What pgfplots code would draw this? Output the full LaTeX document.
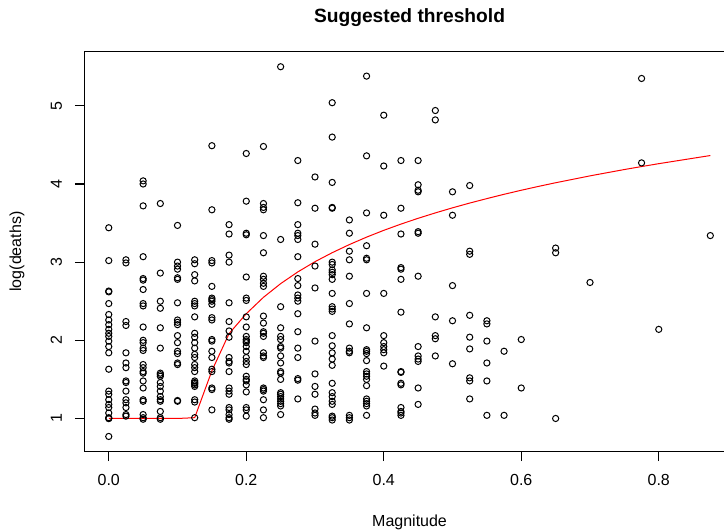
\documentclass[border=0pt]{standalone}
\usepackage{pgfplots}
\pgfplotsset{compat=1.18}
\usepackage{fontspec}
\setmainfont{Liberation Sans}
\begin{document}
\begin{tikzpicture}
\path[use as bounding box] (-42.35pt,-39.85pt) rectangle (319.65pt,225.65pt);
\clip (-42.35pt,-39.85pt) rectangle (319.65pt,225.65pt);
\begin{axis}[
  at={(0pt,0pt)}, anchor=south west,
  scale only axis, width=324.85pt, height=199.7pt,
  xmin=-0.035, xmax=0.91, ymin=0.58, ymax=5.69,
  axis line style={line width=0.6pt},
  tick align=outside, tick pos=left, major tick length=4.85pt,
  tick style={line width=0.6pt, black},
  xtick={0,0.2,0.4,0.6,0.8}, ytick={1,2,3,4,5},
  /pgf/number format/assume math mode=true,
  xticklabel style={/pgf/number format/fixed, /pgf/number format/fixed zerofill, /pgf/number format/precision=1, font=\fontsize{8}{9.6}\selectfont, anchor=north, yshift=-3pt},
  yticklabel style={font=\fontsize{8}{9.6}\selectfont, xshift=-3pt, rotate=90, anchor=south},
  title={\textbf{Suggested threshold}},
  title style={at={(axis description cs:0.5,1.0566)}, anchor=center, font=\fontsize{9.6}{11.5}\selectfont},
  xlabel={Magnitude},
  xlabel style={at={(axis description cs:0.5,-0.177)}, anchor=center, font=\fontsize{8}{9.6}\selectfont},
  ylabel={log(deaths)},
  ylabel style={at={(axis description cs:-0.1042,0.5)}, anchor=center, font=\fontsize{8}{9.6}\selectfont},
]
\addplot[only marks, mark=o, mark size=1.55pt, mark options={line width=0.5pt, black}] coordinates {
(0,3.44)(0,3.02)(0,2.63)(0,2.62)(0,2.47)(0,2.33)(0,2.26)(0,2.20)(0,2.14)(0,2.09)(0,2.05)(0,1.99)(0,1.92)(0,1.84)(0,1.63)(0,1.35)(0,1.31)(0,1.24)(0,1.18)(0,1.14)(0,1.07)(0,1.01)(0,1.0)(0,1.0)(0,0.77)
(0.025,3.03)(0.025,2.99)(0.025,2.24)(0.025,2.19)(0.025,1.84)(0.025,1.71)(0.025,1.65)(0.025,1.48)(0.025,1.46)(0.025,1.35)(0.025,1.24)(0.025,1.20)(0.025,1.14)(0.025,1.05)(0.025,1.03)
(0.05,4.04)(0.05,4.00)(0.05,3.72)(0.05,3.07)(0.05,2.79)(0.05,2.77)(0.05,2.65)(0.05,2.47)(0.05,2.44)(0.05,2.17)(0.05,2.00)(0.05,1.97)(0.05,1.90)(0.05,1.87)(0.05,1.69)(0.05,1.65)(0.05,1.60)(0.05,1.58)(0.05,1.48)(0.05,1.39)(0.05,1.24)(0.05,1.22)(0.05,1.05)(0.05,1.01)(0.05,0.99)
(0.075,3.75)(0.075,2.86)(0.075,2.50)(0.075,2.41)(0.075,2.16)(0.075,1.90)(0.075,1.58)(0.075,1.56)(0.075,1.54)(0.075,1.46)(0.075,1.41)(0.075,1.35)(0.075,1.28)(0.075,1.24)(0.075,1.22)(0.075,1.09)(0.075,1.01)(0.075,0.99)
(0.1,3.47)(0.1,3.00)(0.1,2.95)(0.1,2.91)(0.1,2.80)(0.1,2.78)(0.1,2.48)(0.1,2.26)(0.1,2.23)(0.1,2.20)(0.1,2.06)(0.1,1.97)(0.1,1.86)(0.1,1.83)(0.1,1.71)(0.1,1.69)(0.1,1.23)(0.1,1.22)
(0.125,3.03)(0.125,2.98)(0.125,2.84)(0.125,2.76)(0.125,2.50)(0.125,2.47)(0.125,2.44)(0.125,2.30)(0.125,2.09)(0.125,2.04)(0.125,1.97)(0.125,1.90)(0.125,1.82)(0.125,1.78)(0.125,1.69)(0.125,1.65)(0.125,1.60)(0.125,1.48)(0.125,1.46)(0.125,1.45)(0.125,1.43)(0.125,1.41)(0.125,1.24)(0.125,1.21)(0.125,1.01)
(0.15,4.49)(0.15,3.67)(0.15,3.02)(0.15,2.99)(0.15,2.69)(0.15,2.54)(0.15,2.52)(0.15,2.50)(0.15,2.46)(0.15,2.29)(0.15,2.26)(0.15,2.01)(0.15,1.99)(0.15,1.86)(0.15,1.78)(0.15,1.63)(0.15,1.60)(0.15,1.39)(0.15,1.37)(0.15,1.11)
(0.175,3.48)(0.175,3.36)(0.175,3.09)(0.175,3.00)(0.175,2.48)(0.175,2.24)(0.175,2.12)(0.175,2.04)(0.175,1.78)(0.175,1.73)(0.175,1.71)(0.175,1.60)(0.175,1.39)(0.175,1.35)(0.175,1.31)(0.175,1.14)(0.175,1.11)(0.175,1.05)(0.175,1.01)(0.175,0.99)
(0.2,4.39)(0.2,3.78)(0.2,3.37)(0.2,3.35)(0.2,2.81)(0.2,2.54)(0.2,2.51)(0.2,2.30)(0.2,2.17)(0.2,2.05)(0.2,2.01)(0.2,1.99)(0.2,1.97)(0.2,1.92)(0.2,1.86)(0.2,1.78)(0.2,1.73)(0.2,1.69)(0.2,1.54)(0.2,1.50)(0.2,1.48)(0.2,1.43)(0.2,1.34)(0.2,1.14)(0.2,1.11)(0.2,1.03)
(0.225,4.48)(0.225,3.75)(0.225,3.70)(0.225,3.67)(0.225,3.34)(0.225,3.12)(0.225,2.82)(0.225,2.78)(0.225,2.73)(0.225,2.69)(0.225,2.31)(0.225,2.22)(0.225,2.11)(0.225,2.09)(0.225,2.05)(0.225,1.84)(0.225,1.80)(0.225,1.78)(0.225,1.39)(0.225,1.37)(0.225,1.35)(0.225,1.24)(0.225,1.11)(0.225,1.01)
(0.25,5.50)(0.25,3.29)(0.25,2.43)(0.25,2.16)(0.25,2.05)(0.25,2.01)(0.25,1.92)(0.25,1.90)(0.25,1.80)(0.25,1.71)(0.25,1.60)(0.25,1.58)(0.25,1.50)(0.25,1.33)(0.25,1.31)(0.25,1.28)(0.25,1.25)(0.25,1.22)(0.25,1.19)(0.25,1.16)(0.25,1.05)
(0.275,4.30)(0.275,3.76)(0.275,3.48)(0.275,3.37)(0.275,3.34)(0.275,3.29)(0.275,3.07)(0.275,2.79)(0.275,2.70)(0.275,2.58)(0.275,2.54)(0.275,2.50)(0.275,2.34)(0.275,2.11)(0.275,1.90)(0.275,1.78)(0.275,1.51)(0.275,1.49)(0.275,1.25)
(0.3,4.09)(0.3,3.69)(0.3,3.23)(0.3,2.95)(0.3,2.67)(0.3,1.99)(0.3,1.57)(0.3,1.41)(0.3,1.31)(0.3,1.12)(0.3,1.07)(0.3,1.04)
(0.325,5.04)(0.325,4.60)(0.325,4.02)(0.325,3.70)(0.325,3.69)(0.325,3.00)(0.325,2.97)(0.325,2.90)(0.325,2.87)(0.325,2.84)(0.325,2.78)(0.325,2.60)(0.325,2.43)(0.325,2.40)(0.325,2.37)(0.325,2.06)(0.325,1.93)(0.325,1.84)(0.325,1.76)(0.325,1.68)(0.325,1.45)(0.325,1.33)(0.325,1.28)(0.325,1.22)(0.325,1.18)(0.325,1.03)(0.325,1.01)(0.325,0.98)
(0.35,3.54)(0.35,3.37)(0.35,3.14)(0.35,3.03)(0.35,2.82)(0.35,2.47)(0.35,2.21)(0.35,1.90)(0.35,1.86)(0.35,1.84)(0.35,1.04)(0.35,1.01)(0.35,0.98)
(0.375,5.38)(0.375,4.36)(0.375,3.63)(0.375,3.21)(0.375,3.05)(0.375,3.03)(0.375,2.60)(0.375,2.16)(0.375,1.88)(0.375,1.86)(0.375,1.83)(0.375,1.74)(0.375,1.60)(0.375,1.57)(0.375,1.54)(0.375,1.50)(0.375,1.42)(0.375,1.25)(0.375,1.22)(0.375,1.19)(0.375,1.16)(0.375,1.04)
(0.4,4.88)(0.4,4.23)(0.4,3.60)(0.4,2.60)(0.4,2.06)(0.4,1.97)(0.4,1.92)(0.4,1.88)(0.4,1.84)(0.4,1.67)
(0.425,4.30)(0.425,3.69)(0.425,3.36)(0.425,2.93)(0.425,2.91)(0.425,2.78)(0.425,2.36)(0.425,1.60)(0.425,1.59)(0.425,1.45)(0.425,1.43)(0.425,1.14)(0.425,1.09)(0.425,1.07)(0.425,1.04)
(0.45,4.30)(0.45,3.99)(0.45,3.92)(0.45,3.90)(0.45,3.39)(0.45,3.37)(0.45,2.82)(0.45,1.92)(0.45,1.80)(0.45,1.76)(0.45,1.73)(0.45,1.39)(0.45,1.18)
(0.475,4.94)(0.475,4.82)(0.475,2.30)(0.475,2.06)(0.475,2.02)(0.475,1.80)
(0.5,3.90)(0.5,3.60)(0.5,2.70)(0.5,2.25)(0.5,1.70)
(0.525,3.98)(0.525,3.14)(0.525,3.10)(0.525,2.32)(0.525,2.04)(0.525,1.89)(0.525,1.52)(0.525,1.48)(0.525,1.25)
(0.55,2.25)(0.55,2.21)(0.55,1.99)(0.55,1.71)(0.55,1.48)(0.55,1.04)
(0.575,1.86)(0.575,1.04)
(0.6,2.01)(0.6,1.39)
(0.65,3.18)(0.65,3.12)(0.65,1.00)
(0.7,2.74)
(0.775,5.35)(0.775,4.27)
(0.8,2.14)
(0.875,3.34)
};
\addplot[red, line width=0.5pt, no markers] coordinates {
(0,1.0)(0.025,1.0)(0.05,1.0)(0.075,1.0)(0.1,1.0)(0.125,1.01)(0.15,1.61)(0.175,2.086)(0.2,2.340)(0.225,2.550)(0.25,2.725)(0.275,2.875)(0.3,3.006)(0.325,3.121)(0.35,3.225)(0.375,3.320)(0.4,3.407)(0.425,3.487)(0.45,3.561)(0.475,3.630)(0.5,3.695)(0.525,3.756)(0.55,3.813)(0.575,3.868)(0.6,3.920)(0.625,3.969)(0.65,4.016)(0.7,4.104)(0.75,4.185)(0.775,4.223)(0.8,4.260)(0.875,4.364)
};
\end{axis}
\end{tikzpicture}
\end{document}
